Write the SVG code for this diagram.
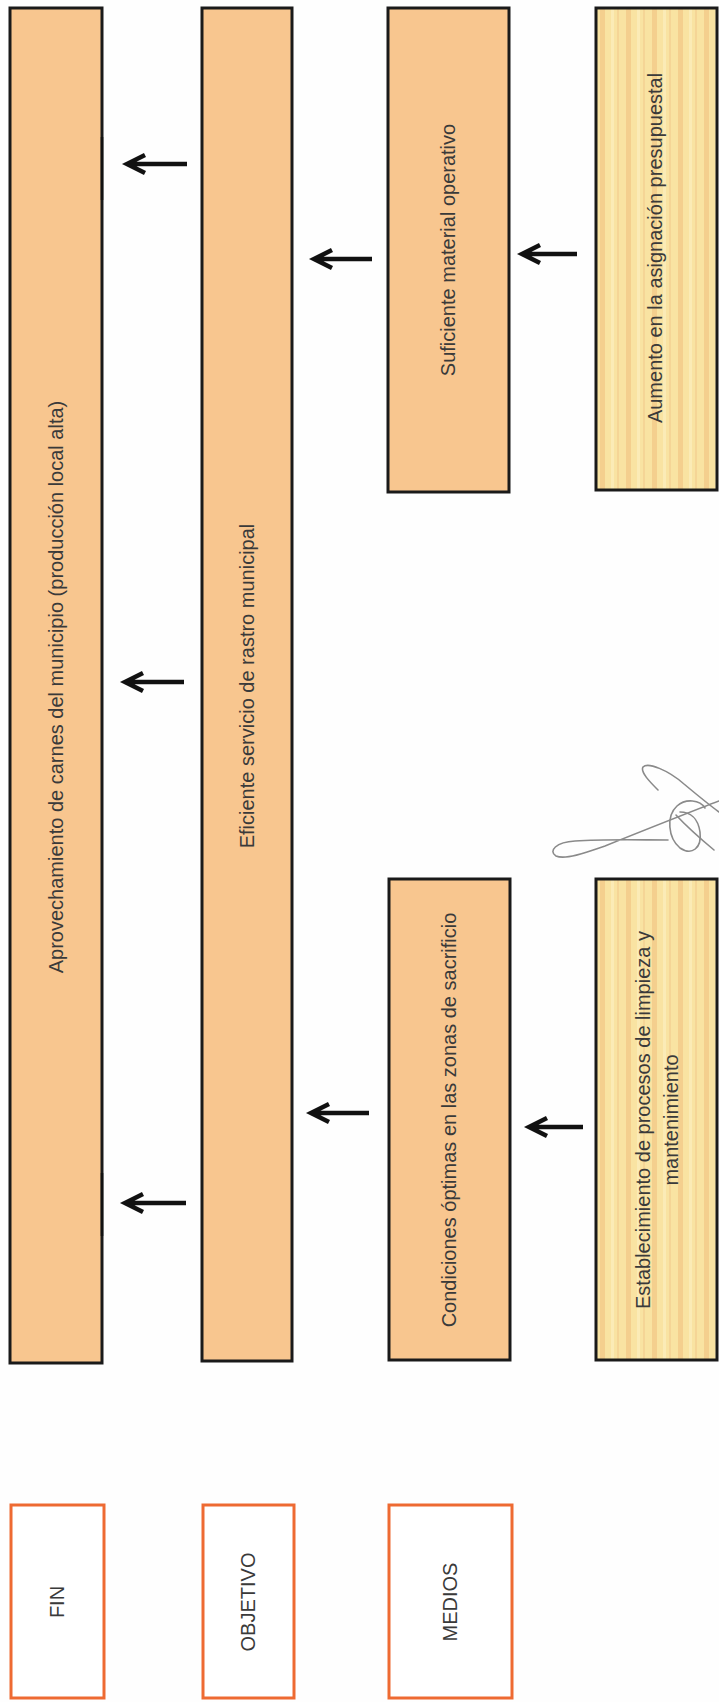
<svg xmlns="http://www.w3.org/2000/svg" width="719" height="1702" viewBox="0 0 719 1702">
  <defs>
    <pattern id="stripes" patternUnits="userSpaceOnUse" x="596" y="0" width="26" height="10">
      <rect width="26" height="10" fill="#F9E3A2"/>
      <rect x="4" width="5" height="10" fill="#F4CF8E"/>
      <rect x="15" width="3" height="10" fill="#FBEBB6"/>
      <rect x="21" width="2" height="10" fill="#F5D596"/>
    </pattern>
    <style>
      .box { fill: #F8C68F; stroke: #1a1a1a; stroke-width: 3; }
      .ybox { fill: url(#stripes); stroke: #1a1a1a; stroke-width: 3; }
      .lbl { fill: #ffffff; stroke: #EE6A32; stroke-width: 3; }
      .t { font-family: "Liberation Sans", Arial, sans-serif; font-size: 20px; fill: #3a3a3a; text-anchor: middle; }
      .arr { fill: none; stroke: #111; stroke-width: 4.5; }
      .tick { stroke: #111; stroke-width: 2.5; }
      .sig { fill: none; stroke: #8a8a8a; stroke-width: 1.6; stroke-linecap: round; }
    </style>
  </defs>
  <rect width="719" height="1702" fill="#fefefe"/>

  <g id="fin">
    <rect class="box" x="10" y="8" width="92" height="1355"/>
    <text class="t" transform="translate(56,687) rotate(-90)" dy="0.35em">Aprovechamiento de carnes del municipio (producción local alta)</text>
  </g>
  <g id="objetivo">
    <rect class="box" x="202" y="8" width="90" height="1353"/>
    <text class="t" transform="translate(247,686) rotate(-90)" dy="0.35em">Eficiente servicio de rastro municipal</text>
  </g>
  <g id="medio1">
    <rect class="box" x="388" y="8" width="121" height="484"/>
    <text class="t" transform="translate(448,250) rotate(-90)" dy="0.35em">Suficiente material operativo</text>
  </g>
  <g id="medio2">
    <rect class="box" x="389" y="879" width="121" height="481"/>
    <text class="t" transform="translate(449,1120) rotate(-90)" dy="0.35em">Condiciones óptimas en las zonas de sacrificio</text>
  </g>
  <g id="accion1">
    <rect class="ybox" x="596" y="8" width="121" height="482"/>
    <text class="t" transform="translate(655,248) rotate(-90)" dy="0.35em">Aumento en la asignación presupuestal</text>
  </g>
  <g id="accion2">
    <rect class="ybox" x="596" y="879" width="121" height="481"/>
    <text class="t" transform="translate(643,1120) rotate(-90)" dy="0.35em">Establecimiento de procesos de limpieza y</text>
    <text class="t" transform="translate(671,1120) rotate(-90)" dy="0.35em">mantenimiento</text>
  </g>

  <g id="label-fin">
    <rect class="lbl" x="11" y="1505" width="93" height="193"/>
    <text class="t" transform="translate(57,1602) rotate(-90)" dy="0.35em">FIN</text>
  </g>
  <g id="label-objetivo">
    <rect class="lbl" x="203" y="1505" width="91" height="193"/>
    <text class="t" transform="translate(248,1602) rotate(-90)" dy="0.35em">OBJETIVO</text>
  </g>
  <g id="label-medios">
    <rect class="lbl" x="389" y="1505" width="123" height="193"/>
    <text class="t" transform="translate(450,1602) rotate(-90)" dy="0.35em">MEDIOS</text>
  </g>

  <g id="connectors">
    <line class="tick" x1="102" y1="137" x2="102" y2="200"/>
    <line class="tick" x1="102" y1="1173" x2="102" y2="1236"/>
    <path class="arr" d="M187,164 H128 M145,155 L127,164 L145,173"/>
    <path class="arr" d="M184,682 H126 M143,673 L125,682 L143,691"/>
    <path class="arr" d="M186,1203 H126 M143,1194 L125,1203 L143,1212"/>
    <path class="arr" d="M372,259 H315 M332,250 L314,259 L332,268"/>
    <path class="arr" d="M369,1113 H312 M329,1104 L311,1113 L329,1122"/>
    <path class="arr" d="M577,254 H523 M540,245 L522,254 L540,263"/>
    <path class="arr" d="M583,1127 H530 M547,1118 L529,1127 L547,1136"/>
  </g>

  <g id="signature">
    <path class="sig" d="M658,790 C650,782 640,772 643,767 C648,762 668,770 684,784 C696,794 708,804 719,812"/>
    <path class="sig" d="M719,801 C690,812 640,832 605,846 C585,853 565,860 556,856 C548,851 556,842 575,841 C605,839 640,840 668,840"/>
    <path class="sig" d="M705,808 C700,800 686,798 677,806 C666,816 668,838 680,848 C692,856 702,848 700,832 C698,818 690,812 680,812"/>
    <path class="sig" d="M676,815 C688,828 702,840 714,850"/>
  </g>
</svg>
